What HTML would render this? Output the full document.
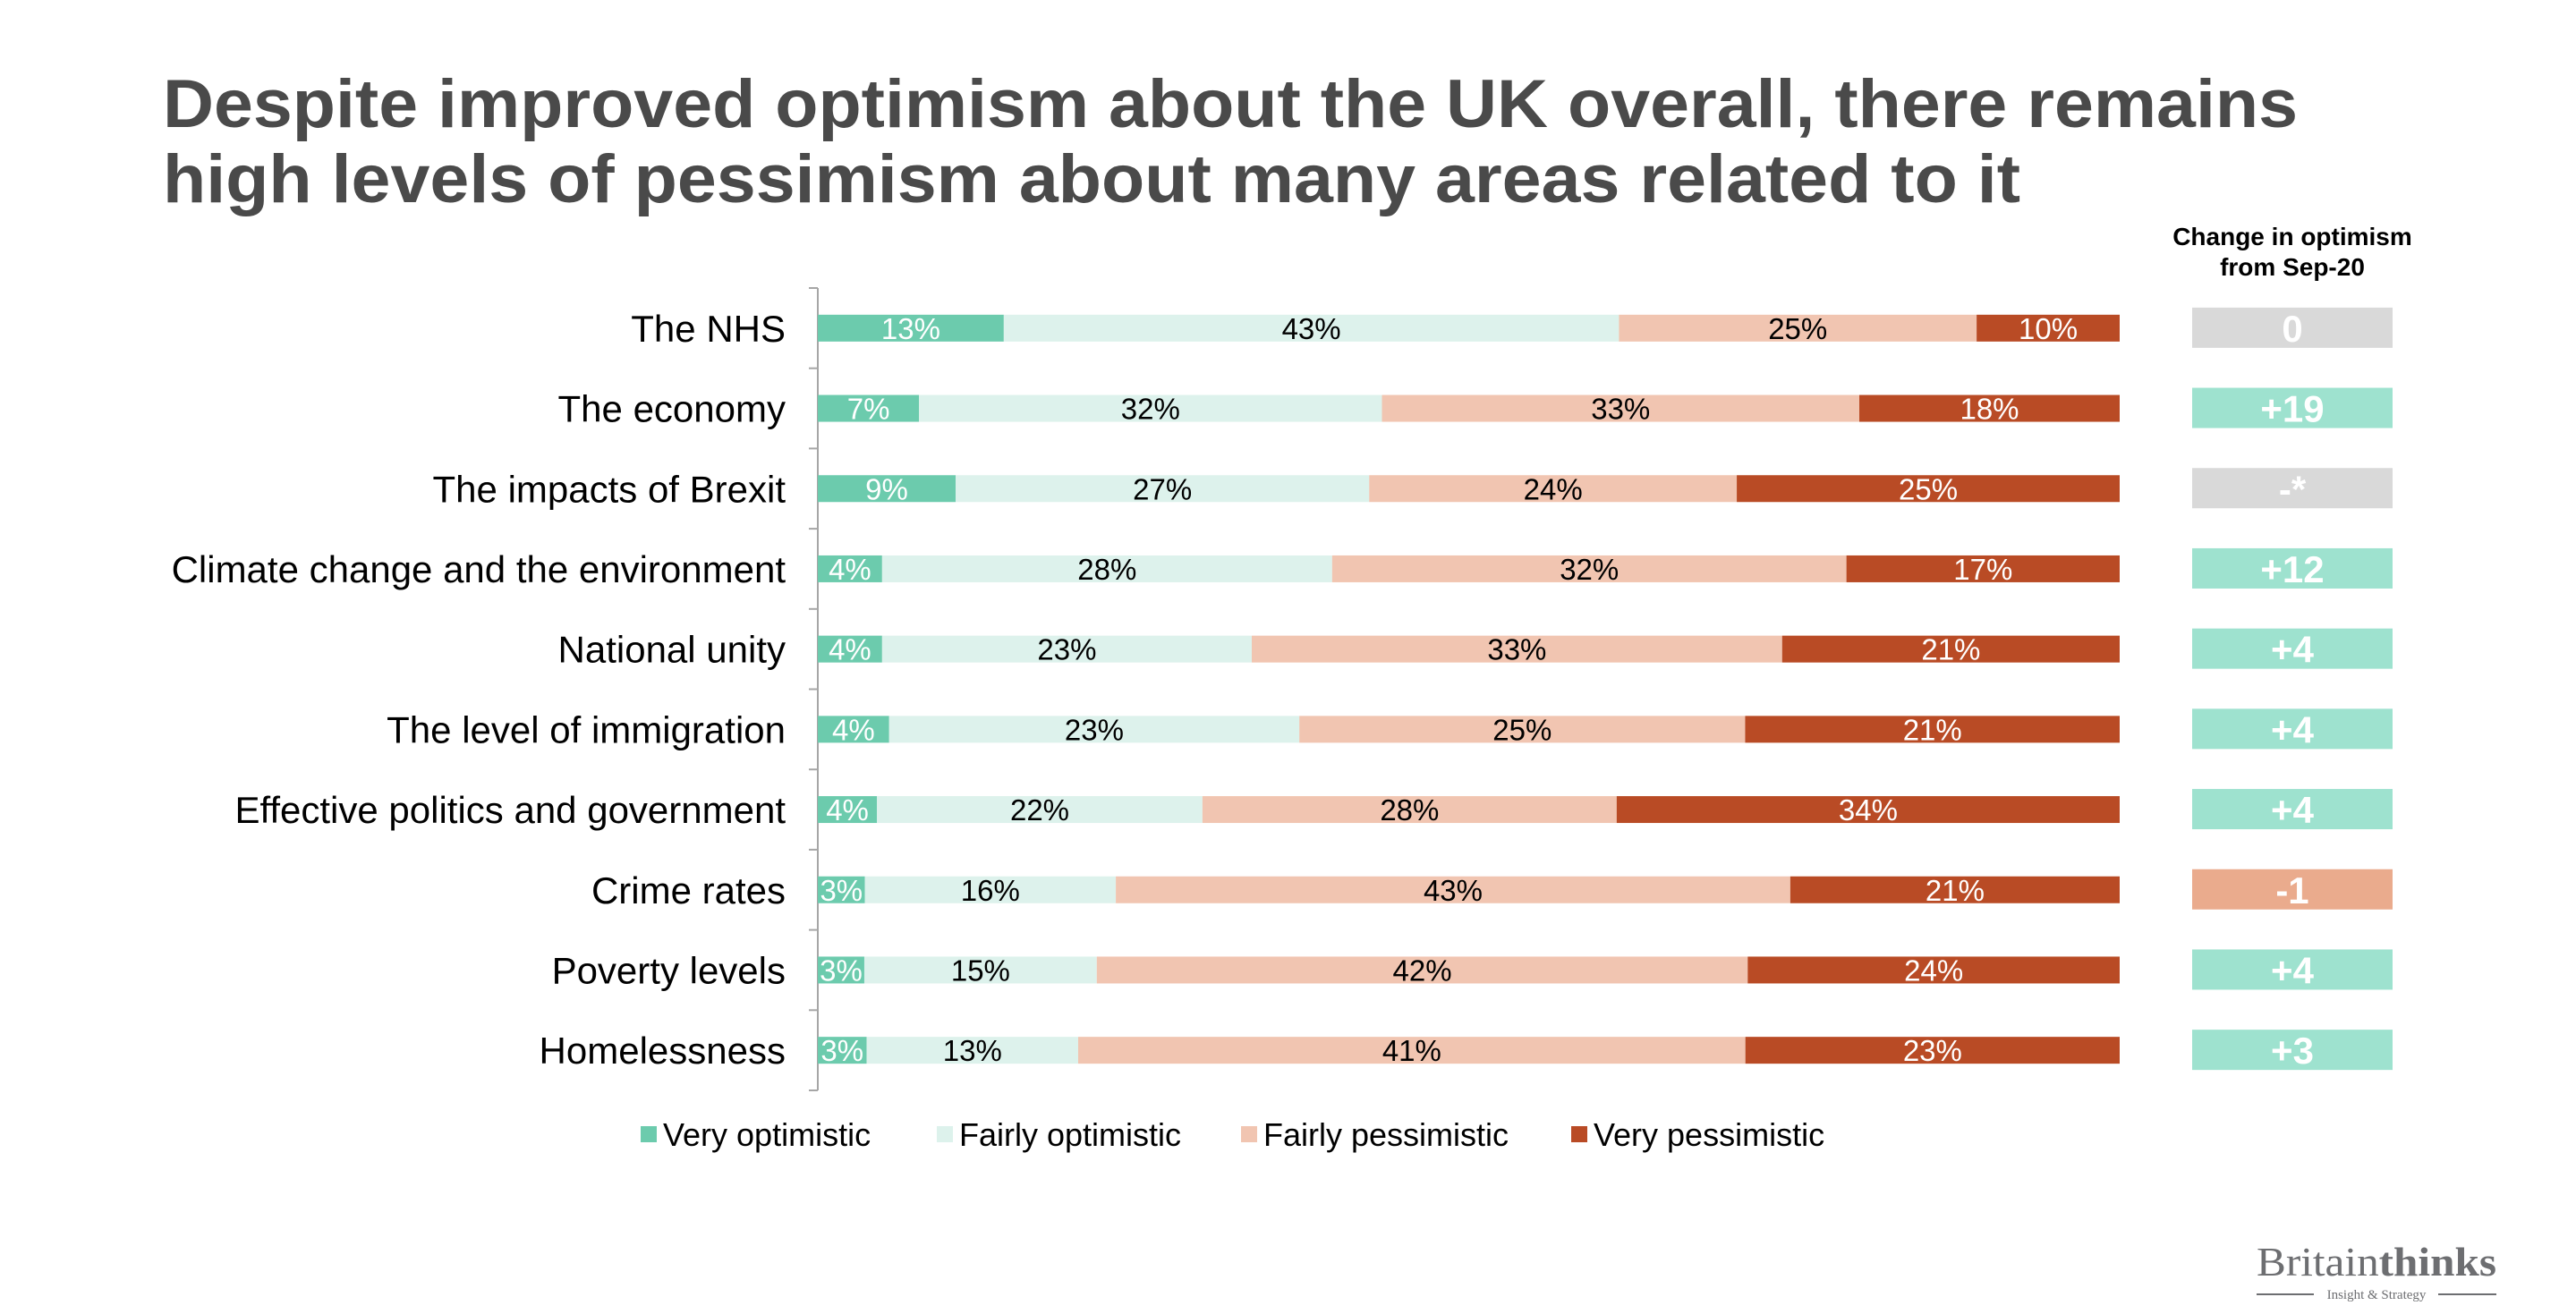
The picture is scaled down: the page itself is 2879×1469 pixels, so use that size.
<!DOCTYPE html>
<html><head><meta charset="utf-8"><style>
html,body{margin:0;padding:0;background:#fff;}
svg{display:block;font-family:"Liberation Sans",Arial,sans-serif;}
</style></head><body>
<svg id="c" width="2879" height="1469" viewBox="0 0 2879 1469" xmlns="http://www.w3.org/2000/svg">
<text x="182" y="142" font-size="76" font-weight="bold" fill="#4a4a4a" textLength="2386" lengthAdjust="spacingAndGlyphs">Despite improved optimism about the UK overall, there remains</text>
<text x="182" y="226" font-size="76" font-weight="bold" fill="#4a4a4a" textLength="2076" lengthAdjust="spacingAndGlyphs">high levels of pessimism about many areas related to it</text>
<text x="2562" y="274" font-size="28" font-weight="bold" text-anchor="middle" fill="#000">Change in optimism</text>
<text x="2562" y="308" font-size="28" font-weight="bold" text-anchor="middle" fill="#000">from Sep-20</text>
<g id="bars"></g>
<g id="legend"></g>
<g>
<text x="2522" y="1426" font-size="46" font-family="'Liberation Serif',serif" fill="#6d6e71" textLength="268" lengthAdjust="spacingAndGlyphs">Britain<tspan font-weight="bold">thinks</tspan></text>
<line x1="2522" y1="1447" x2="2586" y2="1447" stroke="#6d6e71" stroke-width="2"/>
<line x1="2725" y1="1447" x2="2790" y2="1447" stroke="#6d6e71" stroke-width="2"/>
<text x="2656" y="1452" font-size="15" font-family="'Liberation Serif',serif" fill="#6d6e71" text-anchor="middle">Insight &amp; Strategy</text>
</g>
</svg>
<script>
const categories=["The NHS","The economy","The impacts of Brexit","Climate change and the environment","National unity","The level of immigration","Effective politics and government","Crime rates","Poverty levels","Homelessness"];
const veryOpt=[13,7,9,4,4,4,4,3,3,3];
const fairlyOpt=[43,32,27,28,23,23,22,16,15,13];
const fairlyPess=[25,33,24,32,33,25,28,43,42,41];
const veryPess=[10,18,25,17,21,21,34,21,24,23];
const changeLabels=["0","+19","-*","+12","+4","+4","+4","-1","+4","+3"];
const seriesNames=["Very optimistic","Fairly optimistic","Fairly pessimistic","Very pessimistic"];
const NS="http://www.w3.org/2000/svg";
const colors=["#6ccbad","#ddf2ec","#f1c5b1","#b94b25"];
const textCol=["#fff","#000","#000","#fff"];
const x0=914,x1=2369,rowTop=322,pitch=89.7,barH=30;
const g=document.getElementById('bars');
function el(t,a){const e=document.createElementNS(NS,t);for(const k in a)e.setAttribute(k,a[k]);return e;}
function yC(i){return rowTop+pitch*i+pitch/2;}
const ax=el('line',{x1:x0,y1:rowTop,x2:x0,y2:rowTop+pitch*categories.length,stroke:'#a6a6a6','stroke-width':2});


g.appendChild(ax);
for(let i=0;i<=categories.length;i++){const t=el('line',{x1:x0-10,y1:rowTop+pitch*i,x2:x0,y2:rowTop+pitch*i,stroke:'#a6a6a6','stroke-width':2});


g.appendChild(t);}
const series=[veryOpt,fairlyOpt,fairlyPess,veryPess];
categories.forEach((c,i)=>{
  const yc=yC(i);
  const lab=el('text',{x:x0-36,y:yc+15,'font-size':42,'text-anchor':'end',fill:'#000'});
  lab.textContent=c;
  
  
  g.appendChild(lab);
  const tot=series.reduce((s,a)=>s+a[i],0);
  let cx=x0;
  series.forEach((s,k)=>{
    const w=s[i]/tot*(x1-x0);
    const r=el('rect',{x:cx,y:yc-barH/2,width:w,height:barH,fill:colors[k]});
    
    
    g.appendChild(r);
    const t=el('text',{x:cx+w/2,y:yc+12,'font-size':33,'text-anchor':'middle',fill:textCol[k]});
    t.textContent=s[i]+'%';
    
    
    g.appendChild(t);
    cx+=w;
  });
  const lbl=changeLabels[i];
  const bc=lbl.startsWith('+')?'#9ee2cf':(lbl==='-1'?'#eaab8d':'#d9d9d9');
  const b=el('rect',{x:2450,y:yc-23,width:224,height:45,fill:bc});
  
  
  g.appendChild(b);
  const bt=el('text',{x:2562,y:yc+15,'font-size':42,'font-weight':'bold','text-anchor':'middle',fill:'#fff'});
  bt.textContent=lbl;
  
  
  g.appendChild(bt);
});
const lg=document.getElementById('legend');
const lx=[716,1047,1387,1756];
seriesNames.forEach((n,k)=>{
  const r=el('rect',{x:lx[k],y:1259,width:18,height:18,fill:colors[k]});
  
  
  lg.appendChild(r);
  const t=el('text',{x:lx[k]+25,y:1281,'font-size':36,fill:'#000'});
  t.textContent=n;
  
  
  lg.appendChild(t);
});
</script>
</body></html>
